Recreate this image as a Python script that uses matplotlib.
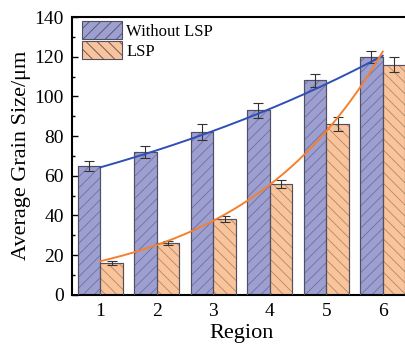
import numpy as np
import matplotlib
matplotlib.use('Agg')
import matplotlib.pyplot as plt

plt.rcParams['font.family'] = ['Liberation Serif', 'DejaVu Serif']
plt.rcParams['mathtext.fontset'] = 'stix'
plt.rcParams['hatch.linewidth'] = 0.6

# data
regions = [1, 2, 3, 4, 5, 6]
without_lsp = [65, 72, 82, 93, 108, 120]
without_err = [2.5, 3, 4, 3.7, 3.5, 3]
with_lsp = [16, 26, 38, 56, 86, 116]
with_err = [0.8, 1, 1.5, 2, 3.5, 3.6]

blue_face = '#9d9fd0'
blue_hatch = '#6e6f9e'
orange_face = '#f9c49b'
orange_hatch = '#b08868'

fig = plt.figure(figsize=(4.05, 3.49), dpi=100)
ax = fig.add_axes([72 / 405, 54.3 / 349, (411 - 72) / 405, 277.7 / 349])

x = np.array(regions, dtype=float)
w = 0.4
b1 = ax.bar(x - 0.2, without_lsp, w, color=blue_face, edgecolor=blue_hatch,
            hatch='///', linewidth=0.8, label='Without LSP', zorder=2)
b2 = ax.bar(x + 0.2, with_lsp, w, color=orange_face, edgecolor=orange_hatch,
            hatch='\\\\\\', linewidth=0.8, label='LSP', zorder=2)
# dark outlines on top of the hatch color
for bars in (b1, b2):
    for p in bars:
        ax.add_patch(plt.Rectangle(p.get_xy(), p.get_width(), p.get_height(),
                                   fill=False, edgecolor='#505060', linewidth=0.8, zorder=3))

ax.errorbar(x - 0.2, without_lsp, yerr=without_err, fmt='none', ecolor='#333333',
            elinewidth=0.8, capsize=3.5, capthick=0.8, zorder=4)
ax.errorbar(x + 0.2, with_lsp, yerr=with_err, fmt='none', ecolor='#333333',
            elinewidth=0.8, capsize=3.5, capthick=0.8, zorder=4)

# exponential fits over the region numbers
xs = np.linspace(1, 6, 200)
k1, c1 = np.polyfit(x, np.log(without_lsp), 1)
k2, c2 = np.polyfit(x, np.log(with_lsp), 1)
ax.plot(xs, np.exp(c1 + k1 * xs), color='#2f4fb5', linewidth=1.4, zorder=5)
ax.plot(xs, np.exp(c2 + k2 * xs), color='#f5802e', linewidth=1.4, zorder=5)

ax.set_xlim(0.5, 6.5)
ax.set_ylim(0, 140)
ax.set_xticks(regions)
ax.set_yticks(range(0, 141, 20))
ax.set_yticks(range(10, 140, 20), minor=True)
ax.tick_params(axis='both', which='major', direction='in', length=4, width=1,
               labelsize=14, pad=6)
ax.tick_params(axis='y', which='minor', direction='in', length=2.5, width=1)
ax.tick_params(axis='x', which='minor', length=0)
for s in ax.spines.values():
    s.set_linewidth(1.5)

ax.set_xlabel('Region', fontsize=16, labelpad=3)
ax.set_ylabel('Average Grain Size/μm', fontsize=16, labelpad=2)

leg = ax.legend(loc='upper left', bbox_to_anchor=(0.03, 0.985), frameon=False,
                fontsize=12, handlelength=2.4, handleheight=1.25,
                handletextpad=0.25, labelspacing=0.1, borderpad=0, borderaxespad=0)
for h in leg.legend_handles:
    h.set_edgecolor('#505060')

fig.savefig('out.png', dpi=100)
